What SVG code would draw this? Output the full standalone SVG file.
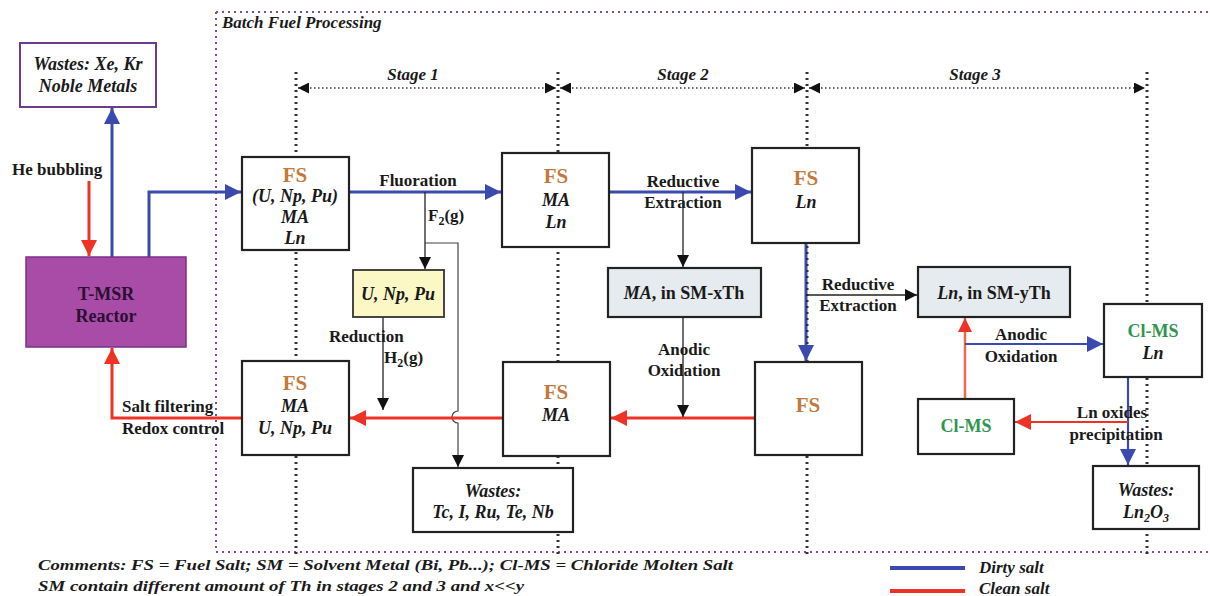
<svg xmlns="http://www.w3.org/2000/svg" width="1210" height="596" viewBox="0 0 1210 596">
  <style>
    text { font-family: "Liberation Serif", "Times New Roman", serif; font-weight: bold; fill: #1a1a1a; }
    .c { text-anchor: middle; }
    .it { font-style: italic; }
    .lbl { font-size: 17px; }
    .box { font-size: 18px; }
    .fs { font-size: 21px; fill: #c27a3c; }
    .green { fill: #2f9650; }
    .node { fill: #fff; stroke: #222; stroke-width: 2.2; }
    .stage { stroke: #333; stroke-width: 3; stroke-dasharray: 2 4; fill: none; }
    .span { stroke: #333; stroke-width: 1.4; stroke-dasharray: 1.5 2.5; fill: none; }
    .frame { stroke: #7a4c9c; stroke-width: 2; stroke-dasharray: 2 4; fill: none; }
    .blue { stroke: #3a4aae; stroke-width: 3; fill: none; }
    .red { stroke: #ee3326; stroke-width: 3; fill: none; }
    .salmon { stroke: #f2684e; stroke-width: 2.5; fill: none; }
    .thin { stroke: #222; stroke-width: 1.3; fill: none; }
    .gas { stroke: #444; stroke-width: 1.2; fill: none; }
  </style>
  <defs>
    <marker id="abBig" viewBox="0 0 10 10" refX="10" refY="5" markerWidth="20" markerHeight="16" orient="auto" markerUnits="userSpaceOnUse">
      <path d="M0,0 L10,5 L0,10 z" fill="#3a4aae"/>
    </marker>
    <marker id="ar" viewBox="0 0 10 10" refX="10" refY="5" markerWidth="20" markerHeight="16" orient="auto" markerUnits="userSpaceOnUse">
      <path d="M0,0 L10,5 L0,10 z" fill="#ee3326"/>
    </marker>
    <marker id="as" viewBox="0 0 10 10" refX="10" refY="5" markerWidth="18" markerHeight="14" orient="auto" markerUnits="userSpaceOnUse">
      <path d="M0,0 L10,5 L0,10 z" fill="#ee3326"/>
    </marker>
    <marker id="ak" viewBox="0 0 10 10" refX="10" refY="5" markerWidth="14" markerHeight="12" orient="auto" markerUnits="userSpaceOnUse">
      <path d="M0,0 L10,5 L0,10 z" fill="#111"/>
    </marker>
    <marker id="ks" viewBox="0 0 10 10" refX="10" refY="5" markerWidth="14" markerHeight="11" orient="auto-start-reverse" markerUnits="userSpaceOnUse">
      <path d="M0,0 L10,5 L0,10 z" fill="#111"/>
    </marker>
  </defs>

  <rect width="1210" height="596" fill="#fff"/>

  <!-- batch processing frame -->
  <g id="frame">
    <path class="frame" d="M216,12 H1210 M216,12 V552 H1210"/>
    <text class="it" font-size="17" x="222" y="28">Batch Fuel Processing</text>
  </g>

  <!-- stage dividers and spans -->
  <g id="stages">
    <line class="stage" x1="296" y1="72" x2="296" y2="556"/>
    <line class="stage" x1="558" y1="72" x2="558" y2="556"/>
    <line class="stage" x1="807" y1="72" x2="807" y2="556"/>
    <line class="stage" x1="1147" y1="72" x2="1147" y2="556"/>
    <line class="span" x1="298" y1="88" x2="556" y2="88" marker-start="url(#ks)" marker-end="url(#ks)"/>
    <line class="span" x1="560" y1="88" x2="805" y2="88" marker-start="url(#ks)" marker-end="url(#ks)"/>
    <line class="span" x1="809" y1="88" x2="1145" y2="88" marker-start="url(#ks)" marker-end="url(#ks)"/>
    <text class="it lbl c" x="413" y="80">Stage 1</text>
    <text class="it lbl c" x="683" y="80">Stage 2</text>
    <text class="it lbl c" x="975" y="80">Stage 3</text>
  </g>

  <!-- connectors -->
  <g id="connectors">
    <!-- reactor off-gas -->
    <line class="blue" x1="112" y1="257" x2="112" y2="108" marker-end="url(#abBig)"/>
    <line class="red" x1="89" y1="181" x2="89" y2="256" marker-end="url(#ar)"/>
    <text class="lbl" x="12" y="175">He bubbling</text>
    <!-- reactor to stage 1 -->
    <polyline class="blue" points="149,257 149,192 241,192" marker-end="url(#abBig)"/>
    <!-- fluoration -->
    <line class="blue" x1="349" y1="192" x2="501" y2="192" marker-end="url(#abBig)"/>
    <text class="lbl c" x="418" y="186">Fluoration</text>
    <line class="thin" x1="425" y1="192" x2="425" y2="269" marker-end="url(#ak)"/>
    <text class="lbl" x="428" y="221">F<tspan font-size="12" dy="4">2</tspan><tspan dy="-4">(g)</tspan></text>
    <path class="gas" d="M425,243 H458 V411 A6,6 0 0 0 458,423 V467" marker-end="url(#ak)"/>
    <!-- reduction -->
    <line class="thin" x1="383" y1="317" x2="383" y2="410" marker-end="url(#ak)"/>
    <text class="lbl" x="329" y="342">Reduction</text>
    <text class="lbl" x="384" y="363">H<tspan font-size="12" dy="4">2</tspan><tspan dy="-4">(g)</tspan></text>
    <!-- clean salt return -->
    <line class="red" x1="755" y1="418" x2="611" y2="418" marker-end="url(#ar)"/>
    <line class="red" x1="503" y1="418" x2="350" y2="418" marker-end="url(#ar)"/>
    <polyline class="red" points="242,418 112,418 112,348" marker-end="url(#ar)"/>
    <text class="lbl" x="122" y="412">Salt filtering</text>
    <text class="lbl" x="122" y="434">Redox control</text>
    <!-- stage 2 -->
    <line class="blue" x1="609" y1="192" x2="751" y2="192" marker-end="url(#abBig)"/>
    <text class="lbl c" x="683" y="187">Reductive</text>
    <text class="lbl c" x="683" y="208">Extraction</text>
    <line class="thin" x1="683" y1="192" x2="683" y2="267" marker-end="url(#ak)"/>
    <line class="thin" x1="683" y1="317" x2="683" y2="417" marker-end="url(#ak)"/>
    <text class="lbl c" x="684" y="355">Anodic</text>
    <text class="lbl c" x="684" y="376">Oxidation</text>
    <!-- stage 3 -->
    <line class="blue" x1="806" y1="243" x2="806" y2="361" marker-end="url(#abBig)"/>
    <line class="stage" style="stroke-width:2" x1="807" y1="246" x2="807" y2="346"/>
    <line class="thin" x1="806" y1="295" x2="917" y2="295" marker-end="url(#ak)"/>
    <text class="lbl c" x="858" y="290">Reductive</text>
    <text class="lbl c" x="858" y="311">Extraction</text>
    <line class="salmon" x1="965" y1="399" x2="965" y2="318" marker-end="url(#as)"/>
    <line class="blue" style="stroke-width:2.2" x1="965" y1="344" x2="1103" y2="344" marker-end="url(#abBig)"/>
    <text class="lbl c" x="1021" y="340">Anodic</text>
    <text class="lbl c" x="1021" y="362">Oxidation</text>
    <line class="blue" style="stroke-width:2.2" x1="1128" y1="377" x2="1128" y2="465" marker-end="url(#abBig)"/>
    <line class="red" style="stroke-width:2.2" x1="1128" y1="422" x2="1015" y2="422" marker-end="url(#ar)"/>
    <text class="lbl c" x="1112" y="418">Ln oxides</text>
    <text class="lbl c" x="1116" y="440">precipitation</text>
  </g>

  <!-- nodes -->
  <g id="wastes-gas">
    <rect x="20" y="43" width="136" height="64" fill="#fff" stroke="#6a3c8c" stroke-width="2"/>
    <text class="it box c" x="88" y="70">Wastes: Xe, Kr</text>
    <text class="it box c" x="88" y="92">Noble Metals</text>
  </g>
  <g id="reactor">
    <rect x="26" y="257" width="160" height="90" fill="#a84ca8" stroke="#7a3088" stroke-width="1.5"/>
    <text class="box c" x="106" y="300" style="fill:#2a1030">T-MSR</text>
    <text class="box c" x="106" y="322" style="fill:#2a1030">Reactor</text>
  </g>
  <g id="fs-s1-in">
    <rect class="node" x="242" y="157" width="107" height="93"/>
    <text class="fs c" x="295" y="182">FS</text>
    <text class="it box c" x="295" y="202">(U, Np, Pu)</text>
    <text class="it box c" x="295" y="223">MA</text>
    <text class="it box c" x="295" y="244">Ln</text>
  </g>
  <g id="uranium">
    <rect x="353" y="270" width="91" height="47" fill="#fbf8c6" stroke="#333" stroke-width="1.8"/>
    <text class="it box c" x="398" y="300">U, Np, Pu</text>
  </g>
  <g id="fs-s1-out">
    <rect class="node" x="242" y="361" width="107" height="94"/>
    <text class="fs c" x="295" y="390">FS</text>
    <text class="it box c" x="295" y="412">MA</text>
    <text class="it box c" x="295" y="434">U, Np, Pu</text>
  </g>
  <g id="wastes-fp">
    <rect class="node" x="413" y="468" width="160" height="64"/>
    <text class="it box c" x="493" y="497">Wastes:</text>
    <text class="it box c" x="493" y="518">Tc, I, Ru, Te, Nb</text>
  </g>
  <g id="fs-s2-in">
    <rect class="node" x="502" y="153" width="107" height="94"/>
    <text class="fs c" x="556" y="183">FS</text>
    <text class="it box c" x="556" y="206">MA</text>
    <text class="it box c" x="556" y="228">Ln</text>
  </g>
  <g id="ma-sm">
    <rect x="608" y="268" width="153" height="49" fill="#e6ebef" stroke="#222" stroke-width="2.2"/>
    <text class="box c" x="684" y="299"><tspan font-style="italic">MA</tspan>, in SM-xTh</text>
  </g>
  <g id="fs-s2-out">
    <rect class="node" x="503" y="362" width="107" height="94"/>
    <text class="fs c" x="556" y="399">FS</text>
    <text class="it box c" x="556" y="421">MA</text>
  </g>
  <g id="fs-s3-in">
    <rect class="node" x="752" y="148" width="107" height="95"/>
    <text class="fs c" x="806" y="185">FS</text>
    <text class="it box c" x="806" y="208">Ln</text>
  </g>
  <g id="fs-s3-out">
    <rect class="node" x="755" y="362" width="107" height="93"/>
    <text class="fs c" x="808" y="412">FS</text>
  </g>
  <g id="ln-sm">
    <rect x="918" y="267" width="152" height="50" fill="#e6ebef" stroke="#222" stroke-width="2.2"/>
    <text class="box c" x="994" y="299"><tspan font-style="italic">Ln</tspan>, in SM-yTh</text>
  </g>
  <g id="clms-ln">
    <rect class="node" x="1104" y="304" width="98" height="73"/>
    <text class="box c green" x="1153" y="337">Cl-MS</text>
    <text class="it box c" x="1153" y="359">Ln</text>
  </g>
  <g id="clms">
    <rect class="node" x="918" y="399" width="96" height="55"/>
    <text class="box c green" x="966" y="432">Cl-MS</text>
  </g>
  <g id="wastes-ln">
    <rect class="node" x="1093" y="466" width="106" height="63"/>
    <text class="it box c" x="1146" y="496">Wastes:</text>
    <text class="it box c" x="1146" y="518">Ln<tspan font-size="12" dy="4">2</tspan><tspan dy="-4">O</tspan><tspan font-size="12" dy="4">3</tspan></text>
  </g>

  <!-- notes and legend -->
  <g id="notes">
    <text class="it" font-size="15" x="38" y="570" textLength="695" lengthAdjust="spacingAndGlyphs">Comments: FS = Fuel Salt; SM = Solvent Metal (Bi, Pb...); Cl-MS = Chloride Molten Salt</text>
    <text class="it" font-size="15" x="38" y="591" textLength="486" lengthAdjust="spacingAndGlyphs">SM contain different amount of Th in stages 2 and 3 and  x&lt;&lt;y</text>
  </g>
  <g id="legend">
    <line x1="890" y1="568" x2="965" y2="568" stroke="#3a4aae" stroke-width="4"/>
    <text class="it" font-size="17" x="979" y="573">Dirty salt</text>
    <line x1="890" y1="591" x2="965" y2="591" stroke="#ee3326" stroke-width="4"/>
    <text class="it" font-size="17" x="979" y="594">Clean salt</text>
  </g>
</svg>
